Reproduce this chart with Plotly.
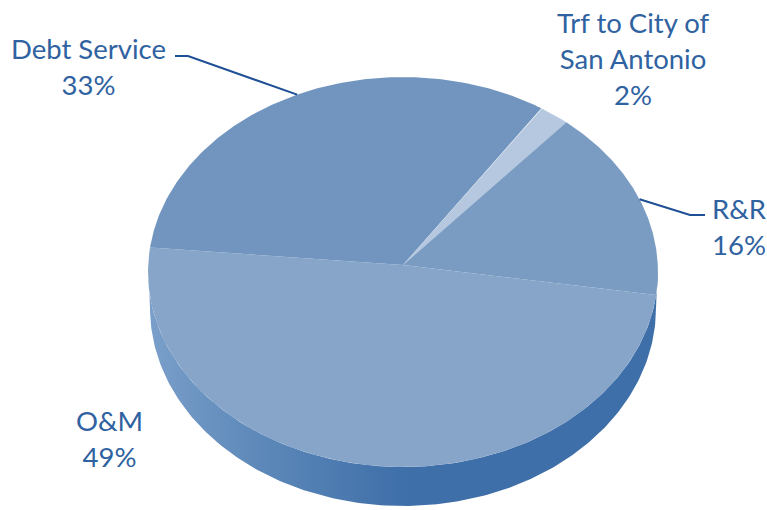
import numpy as np
import plotly.graph_objects as go

# Budget shares, listed clockwise
names = ["O&M", "Debt Service", "Trf to City of San Antonio", "R&R"]
shares = [49, 33, 2, 16]
colors = ["#87a5c9", "#7195bf", "#b5c8df", "#7a9cc3"]
label_text = ["O&M<br>49%", "Debt Service<br>33%", "Trf to City of<br>San Antonio<br>2%", "R&R<br>16%"]
label_pos = [(109, 438), (88, 66), (633, 58), (739, 226)]

# Perspective projection of the tilted disc onto the page
START_DEG = 98.8
APEX = (403, 265)
F_X, F_Y, PERSP = 254.8, 194.7, 0.0359
BOTTOM_CX, BOTTOM_CY, BOTTOM_RX, BOTTOM_RY = 403, 308, 253, 198


def rim(deg):
    a = np.radians(deg)
    u, v = np.sin(a), np.cos(a)
    w = 1 + PERSP * v
    return APEX[0] + F_X * u / w, APEX[1] - F_Y * v / w


def lower_rim(deg):
    a = np.radians(deg)
    return BOTTOM_CX + BOTTOM_RX * np.sin(a), BOTTOM_CY - BOTTOM_RY * np.cos(a)


fig = go.Figure()

# Side wall of the disc
deg_side = np.linspace(90, 270, 200)
bx, by = lower_rim(deg_side)
tx, ty = rim(deg_side[::-1])
fig.add_trace(go.Scatter(
    x=np.r_[bx, tx], y=np.r_[by, ty], mode="lines", line=dict(width=0),
    fill="toself",
    fillgradient=dict(type="horizontal", colorscale=[
        [0, "#7a9fca"], [0.2, "#5f8aba"], [0.5, "#3f6fa9"], [1, "#3f6fa9"]]),
    hoverinfo="skip", showlegend=False,
))

# Top face slices, swept from the shares
edges = START_DEG + np.cumsum([0] + [s * 3.6 for s in shares])
for name, color, a0, a1 in zip(names, colors, edges[:-1], edges[1:]):
    deg = np.linspace(a0, a1, 200)
    ex, ey = rim(deg)
    fig.add_trace(go.Scatter(
        x=np.r_[APEX[0], ex, APEX[0]], y=np.r_[APEX[1], ey, APEX[1]],
        mode="lines", line=dict(width=0), fill="toself", fillcolor=color,
        name=name, hoverinfo="name", showlegend=False,
    ))

# Leader lines leave the rim at each slice's mid-angle
mids = (edges[:-1] + edges[1:]) / 2
for idx, elbow, end in [(1, (188, 56), (175, 56)), (3, (690, 215), (705, 215))]:
    sx, sy = rim(mids[idx])
    fig.add_trace(go.Scatter(
        x=[sx, elbow[0], end[0]], y=[sy, elbow[1], end[1]], mode="lines",
        line=dict(color="#1f4f94", width=2), hoverinfo="skip", showlegend=False,
    ))

for text, (lx, ly) in zip(label_text, label_pos):
    fig.add_annotation(
        x=lx, y=ly, text=text, showarrow=False, align="center",
        font=dict(family="Lato", size=27.5, color="#2f62a0"),
    )

fig.update_layout(
    width=767, height=510, margin=dict(l=0, r=0, t=0, b=0),
    paper_bgcolor="white", plot_bgcolor="white", showlegend=False,
    xaxis=dict(range=[0, 767], visible=False, fixedrange=True),
    yaxis=dict(range=[510, 0], visible=False, fixedrange=True),
)
fig.write_html("out.html", config=dict(displayModeBar=False))
